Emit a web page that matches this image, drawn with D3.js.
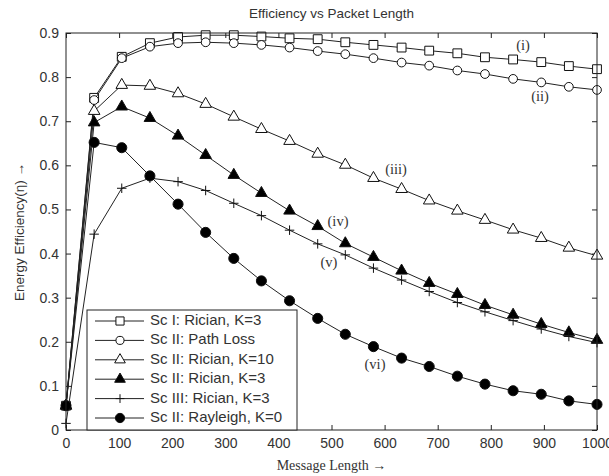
<!DOCTYPE html>
<html>
<head>
<meta charset="utf-8">
<script src="https://cdn.jsdelivr.net/npm/d3@7"></script>
<style>
  html, body { margin: 0; padding: 0; background: #fff; }
  svg { display: block; }
  text { fill: #333; }
</style>
</head>
<body>
<div id="chart"></div>
<script>
// message length samples (20 points from 0 to 1000)
const messageLength = [0, 53, 105, 158, 211, 263, 316, 368, 421, 474, 526, 579, 632, 684, 737, 789, 842, 895, 947, 1000];

const scIRician3 = [0.055, 0.753, 0.846, 0.877, 0.891, 0.895, 0.895, 0.892, 0.888, 0.886, 0.879, 0.873, 0.867, 0.860, 0.854, 0.845, 0.840, 0.834, 0.825, 0.818];
const scIIPathLoss = [0.055, 0.748, 0.843, 0.869, 0.877, 0.879, 0.877, 0.873, 0.867, 0.859, 0.852, 0.843, 0.833, 0.826, 0.815, 0.807, 0.796, 0.788, 0.778, 0.771];
const scIIRician10 = [0.055, 0.723, 0.782, 0.780, 0.763, 0.739, 0.710, 0.682, 0.655, 0.626, 0.601, 0.571, 0.546, 0.520, 0.497, 0.476, 0.454, 0.435, 0.413, 0.395];
const scIIRician3 = [0.055, 0.697, 0.733, 0.707, 0.667, 0.623, 0.578, 0.537, 0.497, 0.462, 0.423, 0.392, 0.361, 0.333, 0.308, 0.283, 0.261, 0.240, 0.221, 0.204];
const scIIIRician3 = [0.015, 0.444, 0.548, 0.571, 0.563, 0.543, 0.514, 0.486, 0.453, 0.422, 0.397, 0.367, 0.340, 0.314, 0.289, 0.268, 0.248, 0.229, 0.212, 0.198];
const scIIRayleigh = [0.055, 0.652, 0.640, 0.576, 0.512, 0.448, 0.389, 0.338, 0.293, 0.253, 0.217, 0.189, 0.163, 0.144, 0.122, 0.104, 0.089, 0.081, 0.066, 0.058];

const seriesNames = ['Sc I: Rician, K=3', 'Sc II: Path Loss', 'Sc II: Rician, K=10', 'Sc II: Rician, K=3', 'Sc III: Rician, K=3', 'Sc II: Rayleigh, K=0'];
const curveLabels = ['(i)', '(ii)', '(iii)', '(iv)', '(v)', '(vi)'];
const xTicks = [0, 100, 200, 300, 400, 500, 600, 700, 800, 900, 1000];
const yTicks = [0, 0.1, 0.2, 0.3, 0.4, 0.5, 0.6, 0.7, 0.8, 0.9];

const WIDTH = 609;
const HEIGHT = 476;
const PLOT_LEFT = 66, PLOT_RIGHT = 597, PLOT_TOP = 33, PLOT_BOTTOM = 430;

// plus marker as a stroked symbol
const symbolPlus = {
    draw(context, size) {
        const r = Math.sqrt(size) / 2;
        context.moveTo(-r, 0); context.lineTo(r, 0);
        context.moveTo(0, -r); context.lineTo(0, r);
    }
};

const styles = [
    { values: scIRician3, type: d3.symbolSquare, size: 78, fill: '#fff' },
    { values: scIIPathLoss, type: d3.symbolCircle, size: 60, fill: '#fff' },
    { values: scIIRician10, type: d3.symbolTriangle, size: 58, fill: '#fff' },
    { values: scIIRician3, type: d3.symbolTriangle, size: 58, fill: '#000' },
    { values: scIIIRician3, type: symbolPlus, size: 90, fill: 'none' },
    { values: scIIRayleigh, type: d3.symbolCircle, size: 80, fill: '#000' }
];

const svg = d3.select('#chart')
    .append('svg')
        .attr('width', WIDTH)
        .attr('height', HEIGHT);

const x = d3.scaleLinear().domain([0, 1000]).range([PLOT_LEFT, PLOT_RIGHT]);
const y = d3.scaleLinear().domain([0, 0.9]).range([PLOT_BOTTOM, PLOT_TOP]);

// axes with inward ticks on all four sides
svg.append('g')
    .attr('transform', `translate(0,${PLOT_BOTTOM})`)
    .call(d3.axisBottom(x).tickValues(xTicks).tickFormat(d3.format('d'))
        .tickSizeInner(-5).tickSizeOuter(0).tickPadding(8))
    .call(g => g.select('.domain').remove())
    .call(g => g.selectAll('text').attr('font-size', 14).attr('font-family', 'Liberation Sans, Arial, sans-serif'));

svg.append('g')
    .attr('transform', `translate(0,${PLOT_TOP})`)
    .call(d3.axisTop(x).tickValues(xTicks).tickFormat('')
        .tickSizeInner(-5).tickSizeOuter(0))
    .call(g => g.select('.domain').remove());

svg.append('g')
    .attr('transform', `translate(${PLOT_LEFT},0)`)
    .call(d3.axisLeft(y).tickValues(yTicks).tickFormat(d => d === 0 ? '0' : d3.format('.1f')(d))
        .tickSizeInner(-5).tickSizeOuter(0).tickPadding(7))
    .call(g => g.select('.domain').remove())
    .call(g => g.selectAll('text').attr('font-size', 14).attr('font-family', 'Liberation Sans, Arial, sans-serif'));

svg.append('g')
    .attr('transform', `translate(${PLOT_RIGHT},0)`)
    .call(d3.axisRight(y).tickValues(yTicks).tickFormat('')
        .tickSizeInner(-5).tickSizeOuter(0))
    .call(g => g.select('.domain').remove());

svg.selectAll('.tick line').attr('stroke', '#222');
svg.selectAll('.tick text').attr('fill', '#333');

// series lines and markers
const line = d3.line()
    .x((d, i) => x(messageLength[i]))
    .y(d => y(d));

styles.forEach(s => {
    svg.append('path')
        .datum(s.values)
        .attr('fill', 'none')
        .attr('stroke', '#222')
        .attr('stroke-width', 1)
        .attr('d', line);

    svg.append('g')
        .selectAll('path')
        .data(s.values)
        .enter()
        .append('path')
            .attr('transform', (d, i) => `translate(${x(messageLength[i])},${y(d)})`)
            .attr('d', d3.symbol().type(s.type).size(s.size))
            .attr('fill', s.fill)
            .attr('stroke', '#111')
            .attr('stroke-width', 1);
});

// frame
svg.append('rect')
    .attr('x', PLOT_LEFT).attr('y', PLOT_TOP)
    .attr('width', PLOT_RIGHT - PLOT_LEFT).attr('height', PLOT_BOTTOM - PLOT_TOP)
    .attr('fill', 'none').attr('stroke', '#222').attr('stroke-width', 1);

// curve labels
const labelPos = [[523, 47], [540, 98], [396, 171], [338, 223], [329, 264], [375, 366]];
svg.selectAll('.curve-label')
    .data(curveLabels)
    .enter()
    .append('text')
        .attr('class', 'curve-label')
        .attr('x', (d, i) => labelPos[i][0])
        .attr('y', (d, i) => labelPos[i][1])
        .attr('text-anchor', 'middle')
        .attr('dominant-baseline', 'middle')
        .attr('font-family', 'Liberation Serif, Times New Roman, serif')
        .attr('font-size', 14.5)
        .text(d => d);

// legend
const legend = svg.append('g');
legend.append('rect')
    .attr('x', 87).attr('y', 310)
    .attr('width', 210).attr('height', PLOT_BOTTOM - 310)
    .attr('fill', '#fff').attr('stroke', '#222').attr('stroke-width', 1);

const rows = legend.selectAll('g.row')
    .data(styles)
    .enter()
    .append('g')
        .attr('class', 'row')
        .attr('transform', (d, i) => `translate(0,${321 + i * 19.4})`);

rows.append('line')
    .attr('x1', 95).attr('x2', 144)
    .attr('stroke', '#222').attr('stroke-width', 1);

rows.append('path')
    .attr('transform', 'translate(120,0)')
    .attr('d', d => d3.symbol().type(d.type).size(d.size * 0.85)())
    .attr('fill', d => d.fill)
    .attr('stroke', '#111');

rows.append('text')
    .attr('x', 150)
    .attr('dominant-baseline', 'middle')
    .attr('font-family', 'Liberation Sans, Arial, sans-serif')
    .attr('font-size', 15)
    .text((d, i) => seriesNames[i]);

// titles
svg.append('text')
    .attr('x', (PLOT_LEFT + PLOT_RIGHT) / 2).attr('y', 18)
    .attr('text-anchor', 'middle')
    .attr('font-family', 'Liberation Sans, Arial, sans-serif')
    .attr('font-size', 13.5)
    .text('Efficiency vs Packet Length');

svg.append('text')
    .attr('x', (PLOT_LEFT + PLOT_RIGHT) / 2).attr('y', 470)
    .attr('text-anchor', 'middle')
    .attr('font-family', 'Liberation Serif, Times New Roman, serif')
    .attr('font-size', 14)
    .text('Message Length →');

svg.append('text')
    .attr('transform', 'translate(24,232) rotate(-90)')
    .attr('text-anchor', 'middle')
    .attr('font-family', 'Liberation Sans, Arial, sans-serif')
    .attr('font-size', 13.5)
    .text('Energy Efficiency(η) →');
</script>
</body>
</html>
